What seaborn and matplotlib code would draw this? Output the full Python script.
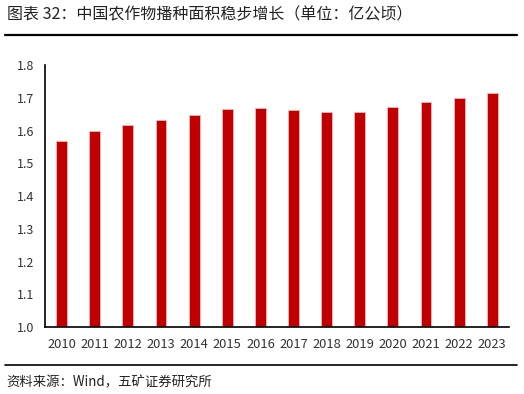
import numpy as np
import pandas as pd
import seaborn as sns
import matplotlib.pyplot as plt
from matplotlib.lines import Line2D

years = ['2010', '2011', '2012', '2013', '2014', '2015', '2016',
         '2017', '2018', '2019', '2020', '2021', '2022', '2023']
area = [1.568, 1.597, 1.616, 1.633, 1.647, 1.666, 1.668,
        1.662, 1.658, 1.658, 1.672, 1.686, 1.698, 1.715]
yticks = [1.0, 1.1, 1.2, 1.3, 1.4, 1.5, 1.6, 1.7, 1.8]

sns.set_style('white')
plt.rcParams['font.family'] = ['Noto Sans CJK SC', 'DejaVu Sans']

df = pd.DataFrame({'year': years, 'area': area})

fig = plt.figure(figsize=(5.24, 3.94), dpi=100)
ax = fig.add_axes([0.086, 0.170, 0.885, 0.665])
sns.barplot(data=df, x='year', y='area', color='#C00000', width=0.33,
            edgecolor='#F4B6B6', linewidth=0.6, saturation=1, ax=ax)

ax.set_ylim(1.0, 1.8)
ax.set_yticks(yticks)
ax.set_yticklabels([f'{v:.1f}' for v in yticks], fontsize=9, color='#333333')
ax.set_xlim(-0.5, len(years) - 0.5)
ax.set_xticks(range(len(years)))
ax.set_xticklabels(years, fontsize=9.3, color='#333333')
ax.set_xticks(np.arange(-0.5, len(years), 1.0), minor=True)
ax.tick_params(axis='x', which='major', length=0, pad=8)
ax.tick_params(axis='x', which='minor', length=4, width=1, color='black', direction='out')
ax.tick_params(axis='y', length=4, width=1, color='black', direction='out', pad=4)
ax.set_xlabel('')
ax.set_ylabel('')
for s in ['top', 'right']:
    ax.spines[s].set_visible(False)
for s in ['left', 'bottom']:
    ax.spines[s].set_color('black')
    ax.spines[s].set_linewidth(1.2)

fig.text(0.013, 0.963, '图表 32：中国农作物播种面积稳步增长（单位：亿公顷）',
         fontsize=11.5, va='center', ha='left', color='#222222')
fig.add_artist(Line2D([0.01, 0.987], [0.911, 0.911], color='black', linewidth=1.6))
fig.add_artist(Line2D([0.01, 0.987], [0.074, 0.074], color='black', linewidth=1.2))
fig.text(0.013, 0.030, '资料来源：Wind，五矿证券研究所',
         fontsize=9.6, va='center', ha='left', color='#222222')

fig.savefig('out.png', dpi=100)
